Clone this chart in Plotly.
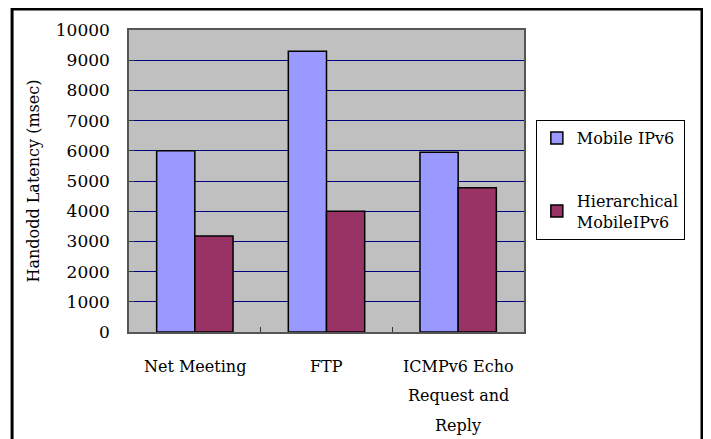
import plotly.graph_objects as go

categories = ["Net Meeting", "FTP", "ICMPv6 Echo Request and Reply"]
category_lines = [["Net Meeting"], ["FTP"], ["ICMPv6 Echo", "Request and", "Reply"]]
mobile_ipv6 = [6000, 9300, 5950]
hierarchical = [3180, 4000, 4780]
y_ticks = [0, 1000, 2000, 3000, 4000, 5000, 6000, 7000, 8000, 9000, 10000]

FONT = "DejaVu Serif"
fig = go.Figure()
fig.add_trace(go.Bar(x=categories, y=mobile_ipv6, name="Mobile IPv6",
                     marker=dict(color="#9999FF", line=dict(color="#000000", width=1.5)),
                     legendgroup="a"))
fig.add_trace(go.Bar(x=categories, y=hierarchical, name="Hierarchical<br>MobileIPv6",
                     marker=dict(color="#993366", line=dict(color="#000000", width=1.5)),
                     legendgroup="b"))

for cat, lines in zip(categories, category_lines):
    for i, ln in enumerate(lines):
        fig.add_annotation(x=cat, xref="x", y=0, yref="paper", text=ln, showarrow=False,
                           yanchor="middle", yshift=-34 - 29.5 * i,
                           font=dict(family=FONT, size=16, color="#000"))

fig.add_shape(type="rect", xref="paper", yref="paper", x0=-0.296, x1=1.4506,
              y0=-0.40, y1=1.0695, line=dict(color="#000", width=3), layer="above")

fig.update_layout(
    width=703, height=431,
    margin=dict(l=121, r=187, t=22, b=107),
    paper_bgcolor="white", plot_bgcolor="#C0C0C0",
    barmode="group", bargap=0.42, bargroupgap=0,
    font=dict(family=FONT, size=16, color="#000"),
    showlegend=True,
    legend=dict(x=1.03, y=0.702, xanchor="left", yanchor="top",
                bordercolor="#000", borderwidth=1, bgcolor="white",
                traceorder="grouped", tracegroupgap=39,
                font=dict(family=FONT, size=16, color="#000")),
    xaxis=dict(showticklabels=False, ticks="inside", tickson="boundaries", ticklen=5,
               tickcolor="#333", showline=True, linecolor="#555", linewidth=1.5,
               mirror=True, showgrid=False, fixedrange=True),
    yaxis=dict(range=[0, 10000], tickvals=y_ticks, ticktext=[str(v) for v in y_ticks],
               ticks="inside", ticklen=5, tickfont=dict(family=FONT, size=17),
               tickcolor="#333", showgrid=True, gridcolor="#000080", gridwidth=1,
               showline=True, linecolor="#555", linewidth=1.5, mirror=True,
               ticklabelstandoff=14, zeroline=False,
               title=dict(text="Handodd Latency (msec)", standoff=12,
                          font=dict(family=FONT, size=16))),
)
fig.write_html("out.html")
